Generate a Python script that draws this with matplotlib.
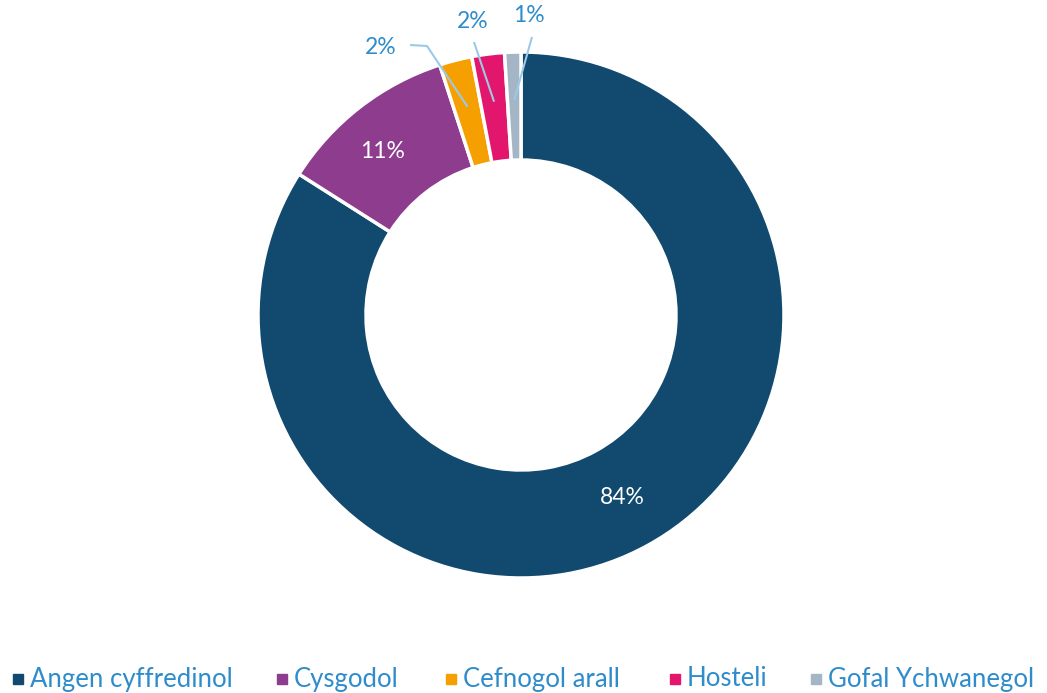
import numpy as np
import matplotlib
matplotlib.use("Agg")
import matplotlib.pyplot as plt

categories = ["Angen cyffredinol", "Cysgodol", "Cefnogol arall", "Hosteli", "Gofal Ychwanegol"]
values = [84, 11, 2, 2, 1]
labels = ["84%", "11%", "2%", "2%", "1%"]
colors = ["#114A6E", "#8E3C8E", "#F5A000", "#E2166C", "#A4B6C6"]

plt.rcParams['font.family'] = ['Lato', 'DejaVu Sans']
text_blue = "#2F8CCB"
line_blue = "#9DC9E6"

W, H = 1047, 693
fig = plt.figure(figsize=(W / 100, H / 100), dpi=100)
ax = fig.add_axes([0, 0, 1, 1])

cx, cy = 521, H - 315
R, width = 263, 108
wedges, _ = ax.pie(values, colors=colors, startangle=90, counterclock=False,
                   center=(cx, cy), radius=R,
                   wedgeprops=dict(width=width, edgecolor='white', linewidth=2.5))
ax.set_xlim(0, W)
ax.set_ylim(0, H)
ax.set_aspect('equal')
ax.axis('off')

rmid = R - width / 2
# inside labels
inside_pos = {0: (622, H - 497), 1: (383, H - 152)}
for i, (x, y) in inside_pos.items():
    ax.text(x, y, labels[i], color='white', fontsize=16.5, ha='center', va='center')

# outside labels with leader lines
outside = {
    2: dict(text=(381, H - 47), path=[(410, H - 45), (427, H - 46)]),
    3: dict(text=(473, H - 22), path=[(474, H - 42)]),
    4: dict(text=(529, H - 16), path=[(532, H - 37)]),
}
for i, o in outside.items():
    w = wedges[i]
    th = np.deg2rad((w.theta1 + w.theta2) / 2)
    r_end = rmid + 6
    ex, ey = cx + r_end * np.cos(th), cy + r_end * np.sin(th)
    pts = o['path'] + [(ex, ey)]
    xs, ys = zip(*pts)
    ax.plot(xs, ys, color=line_blue, lw=1.5, solid_capstyle='butt')
    ax.text(o['text'][0], o['text'][1], labels[i], color=text_blue, fontsize=16.5,
            ha='center', va='center')

# legend (manual layout)
leg_y = H - 679
leg_x = [14, 278, 447, 671, 812]
for x, c, name in zip(leg_x, colors, categories):
    ax.plot([x + 4], [leg_y], marker='s', markersize=7, color=c, linestyle='none',
            clip_on=False)
    ax.text(x + 16, leg_y, name, color=text_blue, fontsize=18.5, ha='left', va='center')

fig.savefig("out.png", dpi=100)
